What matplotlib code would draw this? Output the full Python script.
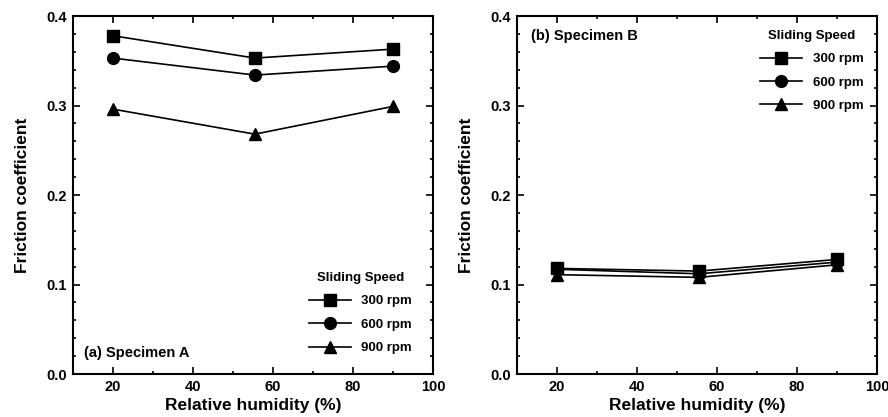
import numpy as np
import matplotlib.pyplot as plt
from matplotlib.ticker import MultipleLocator

plt.rcParams['font.family'] = ['Liberation Sans', 'DejaVu Sans']
plt.rcParams['font.weight'] = 'bold'

# Data
humidity = [20, 55.5, 90]
speeds = ['300 rpm', '600 rpm', '900 rpm']
markers = ['s', 'o', '^']

spec_a_300 = [0.378, 0.353, 0.363]
spec_a_600 = [0.353, 0.334, 0.344]
spec_a_900 = [0.296, 0.268, 0.299]

spec_b_300 = [0.118, 0.115, 0.128]
spec_b_600 = [0.117, 0.112, 0.125]
spec_b_900 = [0.111, 0.108, 0.122]

spec_a = [spec_a_300, spec_a_600, spec_a_900]
spec_b = [spec_b_300, spec_b_600, spec_b_900]

fig = plt.figure(figsize=(8.88, 4.17), dpi=100)
ax_a = fig.add_axes([0.0819, 0.1031, 0.4057, 0.8585])
ax_b = fig.add_axes([0.5818, 0.1031, 0.4059, 0.8585])


def style_axis(ax):
    ax.set_xlim(10, 100)
    ax.set_ylim(0, 0.4)
    ax.xaxis.set_major_locator(MultipleLocator(20))
    ax.xaxis.set_minor_locator(MultipleLocator(10))
    ax.yaxis.set_major_locator(MultipleLocator(0.1))
    ax.yaxis.set_minor_locator(MultipleLocator(0.02))
    ax.set_xticks([20, 40, 60, 80, 100])
    ax.set_yticks([0.0, 0.1, 0.2, 0.3, 0.4])
    ax.set_yticklabels(['0.0', '0.1', '0.2', '0.3', '0.4'])
    ax.tick_params(which='both', direction='in', top=True, right=True,
                   labelsize=10.5, width=1.2)
    ax.tick_params(which='major', length=5, pad=4)
    ax.tick_params(which='minor', length=2.5)
    for s in ax.spines.values():
        s.set_linewidth(1.5)
    ax.set_xlabel('Relative humidity (%)', fontsize=12.5, fontweight='bold', labelpad=3)
    ax.set_ylabel('Friction coefficient', fontsize=12.5, fontweight='bold', labelpad=12)


for ax, series in [(ax_a, spec_a), (ax_b, spec_b)]:
    for vals, lab, m in zip(series, speeds, markers):
        ax.plot(humidity, vals, color='black', lw=1.2, marker=m, ms=8.5,
                label=lab)
    style_axis(ax)

leg_kw = dict(frameon=False, title='Sliding Speed', fontsize=9.5,
              title_fontproperties={'size': 9.5, 'weight': 'bold'},
              handlelength=3.2, labelspacing=0.85, handletextpad=0.8)
ax_a.legend(loc='lower right', bbox_to_anchor=(0.975, 0.022), **leg_kw)
ax_b.legend(loc='upper right', bbox_to_anchor=(0.995, 0.995), **leg_kw)

ax_a.text(0.03, 0.06, '(a) Specimen A', transform=ax_a.transAxes,
          fontsize=10.5, fontweight='bold', va='center')
ax_b.text(0.04, 0.944, '(b) Specimen B', transform=ax_b.transAxes,
          fontsize=10.5, fontweight='bold', va='center')

plt.savefig('out.png', dpi=100)
